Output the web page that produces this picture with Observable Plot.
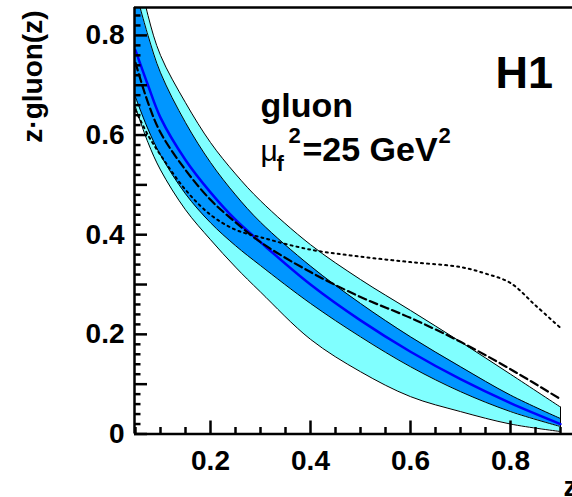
<!DOCTYPE html>
<html>
<head>
<meta charset="utf-8">
<script src="https://cdn.jsdelivr.net/npm/d3@7"></script>
<script src="https://cdn.jsdelivr.net/npm/@observablehq/plot@0.6"></script>
<style>
  html, body { margin: 0; padding: 0; background: white; }
</style>
</head>
<body>
<div id="chart"></div>
<script>
// ---- data ----
const zGrid       = [0.05, 0.075, 0.1, 0.15, 0.2, 0.25, 0.3, 0.4, 0.5, 0.6, 0.7, 0.8, 0.9];
const central     = [0.77, 0.70, 0.635, 0.55, 0.485, 0.43, 0.385, 0.30, 0.228, 0.165, 0.11, 0.062, 0.02];
const innerUpper  = [0.89, 0.80, 0.725, 0.625, 0.545, 0.48, 0.425, 0.337, 0.262, 0.195, 0.135, 0.078, 0.031];
const innerLower  = [0.676, 0.612, 0.56, 0.482, 0.424, 0.378, 0.338, 0.262, 0.195, 0.135, 0.085, 0.045, 0.015];
const outerUpper  = [0.96, 0.84, 0.76, 0.665, 0.585, 0.522, 0.468, 0.38, 0.31, 0.248, 0.185, 0.12, 0.054];
const outerLower  = [0.656, 0.585, 0.53, 0.45, 0.39, 0.335, 0.285, 0.19, 0.125, 0.075, 0.045, 0.02, 0.005];
const dashedVals  = [0.745, 0.665, 0.605, 0.53, 0.47, 0.425, 0.385, 0.325, 0.275, 0.233, 0.185, 0.13, 0.07];
const dottedZ     = [0.05, 0.075, 0.1, 0.15, 0.2, 0.25, 0.3, 0.4, 0.5, 0.6, 0.7, 0.75, 0.8, 0.85, 0.9];
const dottedVals  = [0.65, 0.60, 0.56, 0.49, 0.44, 0.41, 0.395, 0.37, 0.356, 0.345, 0.335, 0.322, 0.303, 0.258, 0.213];

const xTickLabels = [0.2, 0.4, 0.6, 0.8];
const xMinorTicks = [0.05, 0.1, 0.15, 0.25, 0.3, 0.35, 0.45, 0.5, 0.55, 0.65, 0.7, 0.75, 0.85, 0.9];
const yTickLabels = [0, 0.2, 0.4, 0.6, 0.8];
const yMajorTicks = [0, 0.1, 0.2, 0.3, 0.4, 0.5, 0.6, 0.7, 0.8];
const yMinorTicks = [0.02,0.04,0.06,0.08,0.12,0.14,0.16,0.18,0.22,0.24,0.26,0.28,0.32,0.34,0.36,0.38,
                     0.42,0.44,0.46,0.48,0.52,0.54,0.56,0.58,0.62,0.64,0.66,0.68,0.72,0.74,0.76,0.78,0.82,0.84];
const xDomain = [0.048, 0.924];
const yDomain = [0, 0.856];
const yTitle = "z·gluon(z)";
const xTitle = "z";

// ---- build tables ----
const band = zGrid.map((z, i) => ({
  z, c: central[i], iu: innerUpper[i], il: innerLower[i], ou: outerUpper[i], ol: outerLower[i], d: dashedVals[i]
}));
const dotted = dottedZ.map((z, i) => ({z, v: dottedVals[i]}));

const W = 572, H = 497, mL = 134, mT = 7, mB = 63.5, mR = 0;
const fw = W - mL - mR, fh = H - mT - mB;
const font = "'Liberation Sans', Arial, Helvetica, sans-serif";
const curve = "catmull-rom";

const lightCol = "#80ffff", darkCol = "#0096ff", blueCol = "#0000ff";

const chart = Plot.plot({
  width: W, height: H,
  marginLeft: mL, marginRight: mR, marginTop: mT, marginBottom: mB,
  x: {domain: xDomain, axis: null},
  y: {domain: yDomain, axis: null},
  style: {background: "white", fontFamily: font, overflow: "visible"},
  marks: [
    Plot.areaY(band, {x: "z", y1: "ol", y2: "ou", fill: lightCol, curve, clip: true}),
    Plot.areaY(band, {x: "z", y1: "il", y2: "iu", fill: darkCol, curve, clip: true}),
    Plot.line(band, {x: "z", y: "ou", stroke: "black", strokeWidth: 1, curve, clip: true}),
    Plot.line(band, {x: "z", y: "ol", stroke: "black", strokeWidth: 1, curve, clip: true}),
    Plot.line(band, {x: "z", y: "iu", stroke: "black", strokeWidth: 1, curve, clip: true}),
    Plot.line(band, {x: "z", y: "il", stroke: "black", strokeWidth: 1, curve, clip: true}),
    Plot.ruleX([band[band.length-1]], {x: "z", y1: "ol", y2: "ou", stroke: "black", strokeWidth: 1}),
    Plot.line(band, {x: "z", y: "c", stroke: blueCol, strokeWidth: 2.5, curve, clip: true}),
    Plot.line(band, {x: "z", y: "d", stroke: "black", strokeWidth: 2.2, strokeDasharray: "8,4", curve, clip: true}),
    Plot.line(dotted, {x: "z", y: "v", stroke: "black", strokeWidth: 2, strokeDasharray: "2,4", curve, clip: true}),
    // frame
    Plot.ruleY([yDomain[1]], {stroke: "black", strokeWidth: 2.5}),
    Plot.ruleY([yDomain[0]], {stroke: "black", strokeWidth: 2.5}),
    Plot.ruleX([xDomain[0]], {stroke: "black", strokeWidth: 2.5}),
    // ticks (inward)
    Plot.tickX(xTickLabels, {x: d => d, stroke: "black", strokeWidth: 2.5, insetTop: fh - 13}),
    Plot.tickX(xMinorTicks, {x: d => d, stroke: "black", strokeWidth: 2.5, insetTop: fh - 6.5}),
    Plot.tickY(yMajorTicks, {y: d => d, stroke: "black", strokeWidth: 2.5, insetRight: fw - 13}),
    Plot.tickY(yMinorTicks, {y: d => d, stroke: "black", strokeWidth: 2.5, insetRight: fw - 6.5}),
    // tick labels
    Plot.text(xTickLabels, {x: d => d, frameAnchor: "bottom", dy: 27, text: d => String(d),
      fontSize: 28, fontWeight: "bold", fill: "black", lineAnchor: "middle"}),
    Plot.text(yTickLabels, {y: d => d, frameAnchor: "left", dx: -10, text: d => String(d),
      fontSize: 28, fontWeight: "bold", fill: "black", textAnchor: "end", lineAnchor: "middle"}),
    // axis titles
    Plot.text([yTitle], {frameAnchor: "top-left", dx: 41 - mL, dy: 10 - mT, rotate: -90, text: d => d,
      fontSize: 28, fontWeight: "bold", fill: "black", textAnchor: "end", lineAnchor: "bottom"}),
    Plot.text([xTitle], {frameAnchor: "bottom-right", dx: -9, dy: 62, text: d => d,
      fontSize: 28, fontWeight: "bold", fill: "black", textAnchor: "start", lineAnchor: "bottom"}),
    // annotations
    Plot.text(["H1"], {frameAnchor: "top-left", dx: 495 - mL, dy: 87 - mT, text: d => d,
      fontSize: 45, fontWeight: "bold", fill: "black", textAnchor: "start", lineAnchor: "bottom"}),
    Plot.text(["gluon"], {frameAnchor: "top-left", dx: 260 - mL, dy: 116 - mT, text: d => d,
      fontSize: 34, fontWeight: "bold", fill: "black", textAnchor: "start", lineAnchor: "bottom"}),
    Plot.text(["μ"], {frameAnchor: "top-left", dx: 260 - mL, dy: 160 - mT, text: d => d,
      fontSize: 30, fontWeight: "normal", fill: "black", textAnchor: "start", lineAnchor: "bottom"}),
    Plot.text(["f"], {frameAnchor: "top-left", dx: 276 - mL, dy: 170 - mT, text: d => d,
      fontSize: 22, fontWeight: "bold", fill: "black", textAnchor: "start", lineAnchor: "bottom"}),
    Plot.text(["2"], {frameAnchor: "top-left", dx: 288 - mL, dy: 142 - mT, text: d => d,
      fontSize: 22, fontWeight: "bold", fill: "black", textAnchor: "start", lineAnchor: "bottom"}),
    Plot.text(["=25 GeV"], {frameAnchor: "top-left", dx: 302 - mL, dy: 160 - mT, text: d => d,
      fontSize: 34, fontWeight: "bold", fill: "black", textAnchor: "start", lineAnchor: "bottom"}),
    Plot.text(["2"], {frameAnchor: "top-left", dx: 438 - mL, dy: 142 - mT, text: d => d,
      fontSize: 22, fontWeight: "bold", fill: "black", textAnchor: "start", lineAnchor: "bottom"})
  ]
});
document.getElementById("chart").appendChild(chart);
</script>
</body>
</html>
